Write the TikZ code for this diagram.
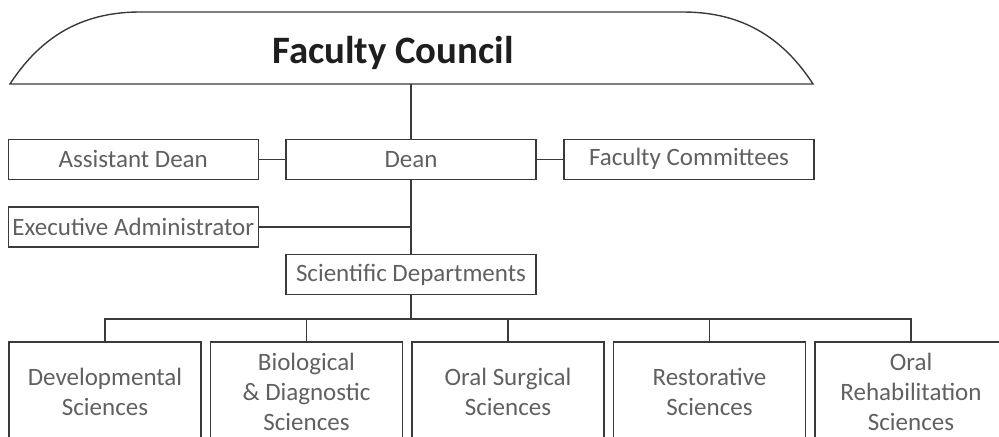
\documentclass[tikz,border=0pt]{standalone}
\usepackage{fontspec}
\setmainfont{Carlito}
\usetikzlibrary{calc}
\definecolor[named]{ChartLine}{HTML}{3A3A3A}
\definecolor[named]{ChartText}{HTML}{606060}
\definecolor[named]{ChartTitle}{HTML}{1E1E1E}
\newcommand{\boxfont}{\fontsize{12.5}{15}\selectfont}
\tikzset{
  unit/.style={draw=ChartLine, line width=0.7pt, text=ChartText,
    minimum width=125pt, minimum height=20pt, inner sep=0pt, font=\boxfont},
  dept/.style={unit, minimum width=96pt, minimum height=50pt, align=center},
  link/.style={draw=ChartLine, line width=0.7pt}
}

\begin{document}
\begin{tikzpicture}[x=0.5pt,y=-0.5pt]
      \useasboundingbox (0,0) rectangle (999,436);
      % council
      \draw[ChartLine, line width=0.7pt] (10,84) .. controls (45,30) and (90,12) .. (140,12)
          -- (683,12) .. controls (733,12) and (778,30) .. (813,84) -- cycle;
      \node[anchor=base, text=ChartTitle, font=\fontsize{19.4}{24}\selectfont\bfseries]
          (council) at (393,63) {Faculty Council};
      \coordinate (cbase) at (411,84);
      % dean row
      \node[unit] (dean) at (411,159.3) {Dean};
      \node[unit] (asst) at (133.3,159.3) {Assistant Dean};
      \node[unit] (fcom) at (689,159.3) {Faculty Committees};
      \node[unit] (exec) at (133.3,227) {Executive Administrator};
      \node[unit] (scidep) at (411,274.5) {Scientific Departments};
      \draw[link] (cbase) -- (dean.north);
      \draw[link] (asst.east) -- (dean.west);
      \draw[link] (dean.east) -- (fcom.west);
      \draw[link] (dean.south) -- (scidep.north);
      \draw[link] (exec.east) -- (exec.east -| dean.south);
      % departments
      \node[dept] (d1) at (105,392) {Developmental\\Sciences};
      \node[dept] (d2) at (306.5,392) {Biological\\\& Diagnostic\\Sciences};
      \node[dept] (d3) at (508,392) {Oral Surgical\\Sciences};
      \node[dept] (d4) at (709.5,392) {Restorative\\Sciences};
      \node[dept] (d5) at (911,392) {Oral\\Rehabilitation\\Sciences};
      \coordinate (bus) at (411,319);
      \draw[link] (scidep.south) -- (bus);
      \foreach \d in {d1,d2,d3,d4,d5}
        \draw[link] (bus) -| (\d.north);
    \end{tikzpicture}
\end{document}
